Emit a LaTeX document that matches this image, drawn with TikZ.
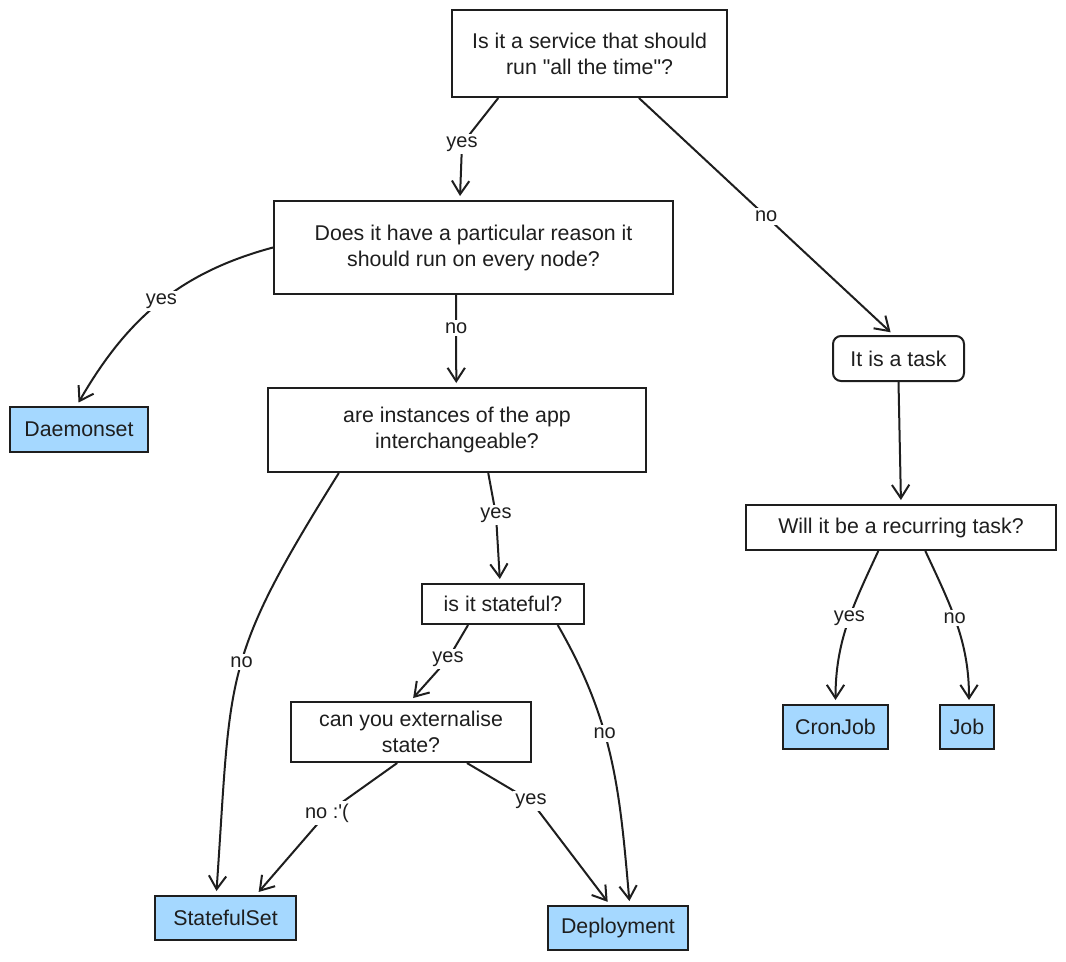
\documentclass[tikz,border=0pt]{standalone}
\usepackage{fontspec}
\setmainfont{Liberation Sans}
\usetikzlibrary{arrows.meta}
\definecolor{ink}{HTML}{1E1E1E}
\definecolor{leafblue}{HTML}{A5D8FF}
\newcommand{\boxfont}{\fontsize{16}{19.5}\selectfont}
\newcommand{\lblfont}{\fontsize{15}{18}\selectfont}
\begin{document}
\begin{tikzpicture}[x=0.75pt,y=-0.75pt,
  box/.style={draw=ink, line width=1.5pt, fill=white, align=center, inner sep=0pt, font=\boxfont, text=ink},
  leaf/.style={box, fill=leafblue},
  lbl/.style={fill=white, inner sep=2pt, font=\lblfont, text=ink},
  arr/.style={draw=ink, line width=1.5pt, -{Straight Barb[length=10pt,width=13pt,line width=1.5pt]}, shorten >=3pt}]
\useasboundingbox (0,0) rectangle (1066,961);
\node[box, minimum width=275*0.75pt, minimum height=87*0.75pt] (q1) at (589.5,53.5) {Is it a service that should\\run \textquotedbl all the time\textquotedbl?};
\node[box, minimum width=399*0.75pt, minimum height=93*0.75pt] (q2) at (473.5,247.5) {Does it have a particular reason it\\should run on every node?};
\node[leaf, minimum width=138*0.75pt, minimum height=45*0.75pt] (dm) at (79,429.5) {Daemonset};
\node[box, minimum width=378*0.75pt, minimum height=84*0.75pt] (q3) at (457,430) {are instances of the app\\interchangeable?};
\node[box, minimum width=162*0.75pt, minimum height=40*0.75pt] (q4) at (503,604) {is it stateful?};
\node[box, minimum width=240*0.75pt, minimum height=60*0.75pt] (q5) at (411,732) {can you externalise\\state?};
\node[leaf, minimum width=141*0.75pt, minimum height=44*0.75pt] (ss) at (225.5,918) {StatefulSet};
\node[leaf, minimum width=140*0.75pt, minimum height=44*0.75pt] (dep) at (618,928) {Deployment};
\node[box, rounded corners=6pt, minimum width=131*0.75pt, minimum height=45*0.75pt] (task) at (898.5,358.5) {It is a task};
\node[box, minimum width=310*0.75pt, minimum height=45*0.75pt] (q6) at (901,527.5) {Will it be a recurring task?};
\node[leaf, minimum width=105*0.75pt, minimum height=44*0.75pt] (cj) at (835.5,727) {CronJob};
\node[leaf, minimum width=54*0.75pt, minimum height=44*0.75pt] (job) at (967,727) {Job};

% bend points of the multi-point arrows (their labels sit on them)
\coordinate (k12) at (462,144);
\coordinate (k34) at (496,515);
\coordinate (k45) at (448,659);
\coordinate (k5s) at (327,813);
\coordinate (k5d) at (531,801);

\draw[arr] (q1.-154.6) -- (k12) -- (q2.106.4);
\node[lbl] at (k12) {yes};
\draw[arr] (q1.-42.2) -- node[lbl,pos=0.5]{no} (task.102.8);
\draw[arr] (q2.west) to[out=195,in=60] node[lbl,pos=0.48]{yes} (dm.96);
\draw[arr] (q2.-110.6) -- node[lbl,pos=0.36]{no} (q3.91.2);
\draw[arr] (q3.-54.8) -- (k34) -- (q4.98.9);
\node[lbl] at (k34) {yes};
\draw[arr] (q3.-160.7) to[out=238,in=86,looseness=1.3] node[lbl,pos=0.47]{no} (ss.112.3);
\draw[arr] (q4.-149.9) -- (k45) -- (q5.91.6);
\node[lbl] at (k45) {yes};
\draw[arr] (q4.-21.6) to[out=-60,in=95] node[lbl,pos=0.4]{no} (dep.63.4);
\draw[arr] (q5.-114.3) -- (k5s) -- (ss.37.8);
\node[lbl] at (k5s) {no :\textquotesingle(};
\draw[arr] (q5.-29.9) -- (k5d) -- (dep.109.7);
\node[lbl] at (k5d) {yes};
\draw[arr] (task.south) -- (q6.north);
\draw[arr] (q6.-134.4) to[out=-115,in=90] node[lbl,pos=0.45]{yes} (cj.north);
\draw[arr] (q6.-44.4) to[out=-65,in=90] node[lbl,pos=0.45]{no} (job.85);
\end{tikzpicture}
\end{document}
